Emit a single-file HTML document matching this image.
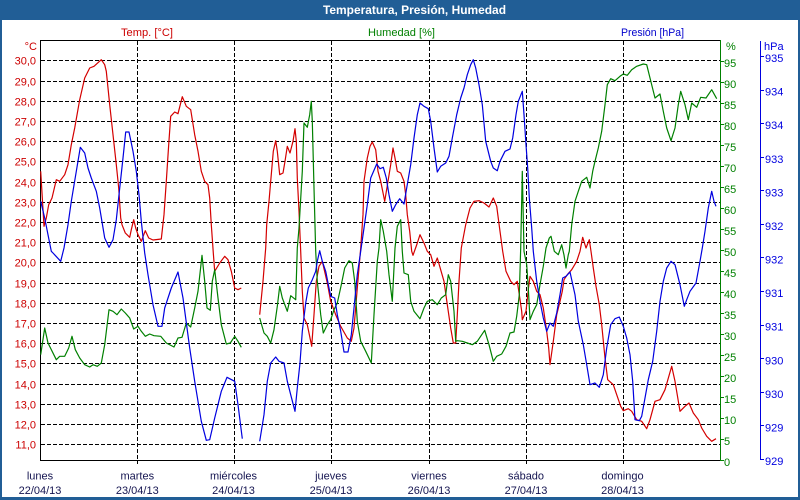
<!DOCTYPE html>
<html><head><meta charset="utf-8"><style>
html,body{margin:0;padding:0;background:#fff;}
body{width:800px;height:500px;overflow:hidden;}
svg{display:block;}
text{font-family:"Liberation Sans",Arial,sans-serif;font-size:11px;}
</style></head><body>
<svg width="800" height="500" viewBox="0 0 800 500" xmlns="http://www.w3.org/2000/svg">
<rect x="0" y="0" width="800" height="500" fill="#ffffff"/>
<rect x="0" y="0" width="800" height="20" fill="#215E96"/>
<rect x="0" y="20" width="2" height="480" fill="#215E96"/>
<rect x="798" y="20" width="2" height="480" fill="#215E96"/>
<rect x="0" y="497" width="800" height="3" fill="#215E96"/>
<text x="323" y="14" fill="#ffffff" font-weight="bold" style="font-size:12px" textLength="183" lengthAdjust="spacingAndGlyphs">Temperatura, Presión, Humedad</text>

<text x="121" y="36" fill="#CC0000" textLength="52" lengthAdjust="spacingAndGlyphs">Temp. [°C]</text>
<text x="368" y="36" fill="#008000" textLength="67" lengthAdjust="spacingAndGlyphs">Humedad [%]</text>
<text x="621" y="36" fill="#0000CC" textLength="63" lengthAdjust="spacingAndGlyphs">Presión [hPa]</text>

<!-- horizontal grid -->
<g stroke="#000" stroke-width="1" stroke-dasharray="4,2" shape-rendering="crispEdges">
<line x1="41" y1="60.5" x2="720" y2="60.5"/>
<line x1="41" y1="81.5" x2="720" y2="81.5"/>
<line x1="41" y1="101.5" x2="720" y2="101.5"/>
<line x1="41" y1="121.5" x2="720" y2="121.5"/>
<line x1="41" y1="141.5" x2="720" y2="141.5"/>
<line x1="41" y1="161.5" x2="720" y2="161.5"/>
<line x1="41" y1="182.5" x2="720" y2="182.5"/>
<line x1="41" y1="202.5" x2="720" y2="202.5"/>
<line x1="41" y1="222.5" x2="720" y2="222.5"/>
<line x1="41" y1="242.5" x2="720" y2="242.5"/>
<line x1="41" y1="262.5" x2="720" y2="262.5"/>
<line x1="41" y1="283.5" x2="720" y2="283.5"/>
<line x1="41" y1="303.5" x2="720" y2="303.5"/>
<line x1="41" y1="323.5" x2="720" y2="323.5"/>
<line x1="41" y1="343.5" x2="720" y2="343.5"/>
<line x1="41" y1="363.5" x2="720" y2="363.5"/>
<line x1="41" y1="384.5" x2="720" y2="384.5"/>
<line x1="41" y1="404.5" x2="720" y2="404.5"/>
<line x1="41" y1="424.5" x2="720" y2="424.5"/>
<line x1="41" y1="444.5" x2="720" y2="444.5"/>
<!-- vertical grid -->
<line x1="137.5" y1="41" x2="137.5" y2="460"/>
<line x1="234.5" y1="41" x2="234.5" y2="460"/>
<line x1="331.5" y1="41" x2="331.5" y2="460"/>
<line x1="429.5" y1="41" x2="429.5" y2="460"/>
<line x1="526.5" y1="41" x2="526.5" y2="460"/>
<line x1="623.5" y1="41" x2="623.5" y2="460"/>
</g>
<!-- axes -->
<g stroke="#000" stroke-width="1" shape-rendering="crispEdges">
<line x1="40" y1="40.5" x2="720" y2="40.5"/>
<line x1="40.5" y1="40" x2="40.5" y2="461"/>
<line x1="40" y1="460.5" x2="720" y2="460.5"/>
<line x1="137.5" y1="460" x2="137.5" y2="464"/>
<line x1="234.5" y1="460" x2="234.5" y2="464"/>
<line x1="331.5" y1="460" x2="331.5" y2="464"/>
<line x1="429.5" y1="460" x2="429.5" y2="464"/>
<line x1="526.5" y1="460" x2="526.5" y2="464"/>
<line x1="623.5" y1="460" x2="623.5" y2="464"/>
</g>
<!-- green axis -->
<g stroke="#008000" stroke-width="1" shape-rendering="crispEdges">
<line x1="720.5" y1="40" x2="720.5" y2="461"/>
<line x1="720" y1="61.5" x2="724" y2="61.5"/>
<line x1="720" y1="82.5" x2="724" y2="82.5"/>
<line x1="720" y1="103.5" x2="724" y2="103.5"/>
<line x1="720" y1="124.5" x2="724" y2="124.5"/>
<line x1="720" y1="145.5" x2="724" y2="145.5"/>
<line x1="720" y1="166.5" x2="724" y2="166.5"/>
<line x1="720" y1="187.5" x2="724" y2="187.5"/>
<line x1="720" y1="208.5" x2="724" y2="208.5"/>
<line x1="720" y1="229.5" x2="724" y2="229.5"/>
<line x1="720" y1="250.5" x2="724" y2="250.5"/>
<line x1="720" y1="271.5" x2="724" y2="271.5"/>
<line x1="720" y1="292.5" x2="724" y2="292.5"/>
<line x1="720" y1="313.5" x2="724" y2="313.5"/>
<line x1="720" y1="334.5" x2="724" y2="334.5"/>
<line x1="720" y1="355.5" x2="724" y2="355.5"/>
<line x1="720" y1="376.5" x2="724" y2="376.5"/>
<line x1="720" y1="397.5" x2="724" y2="397.5"/>
<line x1="720" y1="418.5" x2="724" y2="418.5"/>
<line x1="720" y1="439.5" x2="724" y2="439.5"/>
<line x1="720" y1="460.5" x2="724" y2="460.5"/>
</g>
<!-- blue axis -->
<g stroke="#0000E0" stroke-width="1" shape-rendering="crispEdges">
<line x1="760.5" y1="41" x2="760.5" y2="460"/>
<line x1="760" y1="459.5" x2="764" y2="459.5"/>
<line x1="760" y1="425.5" x2="764" y2="425.5"/>
<line x1="760" y1="392.5" x2="764" y2="392.5"/>
<line x1="760" y1="358.5" x2="764" y2="358.5"/>
<line x1="760" y1="325.5" x2="764" y2="325.5"/>
<line x1="760" y1="291.5" x2="764" y2="291.5"/>
<line x1="760" y1="257.5" x2="764" y2="257.5"/>
<line x1="760" y1="224.5" x2="764" y2="224.5"/>
<line x1="760" y1="190.5" x2="764" y2="190.5"/>
<line x1="760" y1="157.5" x2="764" y2="157.5"/>
<line x1="760" y1="123.5" x2="764" y2="123.5"/>
<line x1="760" y1="90.5" x2="764" y2="90.5"/>
<line x1="760" y1="56.5" x2="764" y2="56.5"/>
</g>

<!-- left labels -->
<g fill="#CC0000" text-anchor="end">
<text x="37" y="50">°C</text>
<text x="36" y="64.5">30,0</text>
<text x="36" y="85.5">29,0</text>
<text x="36" y="105.5">28,0</text>
<text x="36" y="125.5">27,0</text>
<text x="36" y="145.5">26,0</text>
<text x="36" y="165.5">25,0</text>
<text x="36" y="186.5">24,0</text>
<text x="36" y="206.5">23,0</text>
<text x="36" y="226.5">22,0</text>
<text x="36" y="246.5">21,0</text>
<text x="36" y="266.5">20,0</text>
<text x="36" y="287.5">19,0</text>
<text x="36" y="307.5">18,0</text>
<text x="36" y="327.5">17,0</text>
<text x="36" y="347.5">16,0</text>
<text x="36" y="367.5">15,0</text>
<text x="36" y="388.5">14,0</text>
<text x="36" y="408.5">13,0</text>
<text x="36" y="428.5">12,0</text>
<text x="36" y="448.5">11,0</text>
</g>
<!-- green labels -->
<g fill="#008000">
<text x="726" y="50">%</text>
<text x="724" y="67">95</text>
<text x="724" y="88">90</text>
<text x="724" y="109">85</text>
<text x="724" y="130">80</text>
<text x="724" y="151">75</text>
<text x="724" y="172">70</text>
<text x="724" y="193">65</text>
<text x="724" y="214">60</text>
<text x="724" y="235">55</text>
<text x="724" y="256">50</text>
<text x="724" y="277">45</text>
<text x="724" y="298">40</text>
<text x="724" y="319">35</text>
<text x="724" y="340">30</text>
<text x="724" y="361">25</text>
<text x="724" y="382">20</text>
<text x="724" y="403">15</text>
<text x="724" y="424">10</text>
<text x="724" y="445">5</text>
<text x="724" y="466">0</text>
</g>
<!-- blue labels -->
<g fill="#0000E0">
<text x="764" y="50">hPa</text>
<text x="765" y="62">935</text>
<text x="765" y="95.6">934</text>
<text x="765" y="129.2">934</text>
<text x="765" y="162.8">933</text>
<text x="765" y="196.3">933</text>
<text x="765" y="229.9">932</text>
<text x="765" y="263.5">932</text>
<text x="765" y="297.1">931</text>
<text x="765" y="330.7">931</text>
<text x="765" y="364.3">930</text>
<text x="765" y="397.8">930</text>
<text x="765" y="431.4">929</text>
<text x="765" y="465">929</text>
</g>
<!-- day labels -->
<g fill="#141450" text-anchor="middle">
<text x="40" y="479.5">lunes</text>
<text x="40" y="494">22/04/13</text>
<text x="137.3" y="479.5">martes</text>
<text x="137.3" y="494">23/04/13</text>
<text x="233.5" y="479.5">miércoles</text>
<text x="233.5" y="494">24/04/13</text>
<text x="331" y="479.5">jueves</text>
<text x="331" y="494">25/04/13</text>
<text x="429" y="479.5">viernes</text>
<text x="429" y="494">26/04/13</text>
<text x="526" y="479.5">sábado</text>
<text x="526" y="494">27/04/13</text>
<text x="622.5" y="479.5">domingo</text>
<text x="622.5" y="494">28/04/13</text>
</g>

<!-- series -->
<g fill="none" stroke-width="1.2" stroke-linejoin="round">
<polyline stroke="#D40000" points="40.7,171.3 44,226.3 46.3,218 48.7,204.7 52,198 56.3,179.7 59.7,181.3 64.7,174.7 68,164.7 71.3,144.7 74.7,128 79.7,99.7 84.7,78 89.7,68 94,66.3 101.3,59.7 104.7,64.7 106.3,71.3 109.7,104.7 113,134.7 116.3,164.7 118.7,188 120.7,218 122,224.7 125.3,233 129.7,237.3 131.3,229.7 133.7,219.7 135.7,228 138,234.7 141.3,241.3 145.3,230.7 148.7,238 153,240 161.3,239 164,214.7 166.3,181.3 168.7,144.7 170.7,116.3 174.7,112 178,113.7 182.3,96.7 186.3,106.3 190.7,109.7 194.7,134.7 198,151.3 201.3,171.3 204.7,181.3 208,184.7 209.7,198 211.3,224.7 213.3,253 214.7,271.3 219.7,263 224.7,256.3 228,259.7 231.3,271.3 234.7,288 238,289.7 241.3,288"/>
<polyline stroke="#D40000" points="259.7,314.7 263,281.3 265.7,248 266.7,224.7 269,201.3 270.7,181.3 273.3,151.3 275.7,140.7 277.3,151.3 279.7,174.7 283,173 285,161.3 287.3,146.3 290,153 293,141.3 295,128.7 296.3,141.3 297.3,178 299,211.3 300.7,251.3 302.3,291.3 304,318 307.3,324.7 311.7,346.3 314,314.7 316.3,281.3 319,266.3 322.3,261.3 325,273 327.3,283 330.7,301.3 335.7,314.7 340.7,326.3 347.3,338 351.3,341.3 354,328 357.3,288 360.7,248 363,214.7 364,181.3 367.3,158 370,146.3 372.3,142 375.7,149.7 378,171.3 380.7,181.3 384.7,201.3 388,181.3 390.7,164.7 393,148 395,158 397.3,171.3 400.7,173 404,181.3 405.7,194.7 407.3,214.7 409.7,231.3 411.7,251.3 413,255.3 417,244 420,234.7 424,243 427.3,251.3 430.7,254.7 434,266.3 437.3,258 439.7,266.3 444,281.3 447.3,304.7 450.7,328 453.3,343 455.7,343 457.3,314.7 459,281.3 461.3,248 465.7,224.7 470,208 474,201.3 479,200.7 484,203 489,207 493.3,198 496.7,206.3 500,231.3 502.7,251.3 506,271.3 510.7,281.3 514,284.7 517.3,281.3 519.3,294.7 521.7,311.3 522.3,319.7 526,311.3 528.3,289.7 530,276.3 533.3,281.3 536.7,291.3 540,294.7 543.3,308 546.7,331.3 548.7,348 550,364.7 553.3,341.3 556.7,314.7 560,301.3 562.3,291.3 564,279.7 567.3,274.7 571.7,269.7 576.7,261.3 580,251.3 582.7,237.3 586,248 589.3,239.7 591,251.3 593.3,268 596,286.3 599.3,304.7 601.7,324.7 605,358 607.7,379.7 613.3,384.7 616.7,394.7 620.7,406.3 623.3,410.7 628.3,408.7 631.7,411.3 636.7,419.7 641.7,421.3 646.7,428.7 650,419.7 655,401.3 660,399.7 665,389.7 671.7,366.3 675,381.3 680,411.3 685,406.3 689,403 693.3,413 698.3,419.7 701.7,428 706.7,436.3 711.7,441.3 716,438.7"/>
<polyline stroke="#008000" points="40.7,354.7 44.7,328 48,343 56.3,359.7 59.7,356.3 64.7,356.3 68.7,348 72,336.3 75.3,349.7 79.7,358 84.7,364.7 89.7,367 93,364.7 97.3,366.3 101.3,363 104.7,344.7 109,309.7 113,311.3 117,314.7 121.3,309 125.3,313 129.7,318 133.7,329 138,326.3 141.3,331.3 145.3,336.3 149.7,334 154,335.7 160.7,336.3 166.3,343 174,347 178,338 182,337.3 186.3,323 190.7,327 194.7,308 198,291.3 202,255.3 204.7,281.3 207,308 210.3,310.3 212.3,281.3 214.7,269.7 218,298 221.3,324.7 226.3,344 230.3,343 234.7,336.3 238,341.3 241.3,347.3"/>
<polyline stroke="#008000" points="259.7,318 264,333 267.3,336.3 270.7,343 274,329.7 277.3,306.3 279.7,286.3 282.3,298 287.3,311.3 290.7,295.7 295.7,299.7 297.3,248 299,228 302.3,171.3 304,123 307.3,127.3 309.7,114.7 311.3,101.3 312.3,121.3 314,188 315.7,251.3 317.3,281.3 320.7,314.7 323.3,333 327.3,324.7 330.7,319.7 334,309.7 337.3,303 341.3,284.7 344.7,268 349,260.7 352.3,263 354.7,281.3 357.3,321.3 360.7,341.3 365.7,351.3 371.3,363 374,314.7 377.3,261.3 379,248 380.7,219.7 383.3,231.3 386.7,251.3 389,274.7 392.3,301.3 395,248 397.3,226.3 400.7,219.7 402.3,251.3 404,273 408.3,274.7 410.7,301.3 414,311.3 420,318.7 424,308 427.3,301.3 432.3,299.7 437.3,304.7 441.3,298 445.7,294.7 448.3,274.7 450.7,281.3 454,311.3 455.7,341.3 457.3,340.7 462.3,341.3 467.3,343 472.3,344.7 477.3,341.3 484.7,330.3 489,344.7 493.3,361.3 496.7,356.3 501.7,354 506,346.3 510,333 514,332 516.7,316.3 519.3,294.7 520.7,248 522.3,171.3 524,251.3 526.7,264.7 528.3,288 530,319.7 533.3,311.3 536.7,304.7 540,284.7 543.3,266.3 546,248 549.3,238 551,236.3 554.3,251.3 558.3,254.7 561.7,244.7 564,255 566,268 568.3,254.7 569.3,251.3 571.7,224.7 575,201.3 578.3,191.3 581.7,181.3 586.7,177.3 590,188 592.7,171.3 595,161.3 598.3,148 601.7,131.3 605,104.7 607.3,84.7 610.7,78.7 615,80.7 620,76.3 623.3,74 627.3,75.3 631.7,69.7 636.7,66.3 643.3,64 646.7,64.7 650,78 655,98 660,94 663.3,111.3 666.7,128 671,140.7 675,128 678.3,104.7 680.7,91.3 685,104.7 688.3,119.7 691.7,103 696.7,107.3 700.7,97.3 706,98 711.7,89.7 716.7,98.7"/>
<polyline stroke="#0000E0" points="40.7,201.3 44.7,218 48,234.7 51.3,251.3 53,253 60.7,261.3 64,248 68,224.7 71.3,201.3 76.3,171.3 80.3,147.3 84.7,153 88,168 91.3,178 96.3,191.3 99.7,208 104.7,238 109,247.3 113,239.7 116.3,219.7 119,194.7 123,158 125.7,132 129,132 133,151.3 136.3,171.3 139,194.7 141.3,221.3 144.7,253 148,274.7 153,304.7 158,326.3 162,326.3 164.7,308 171.3,288 178,272 183,298 189.7,348 194.7,381.3 201.3,421.3 206.3,440.3 209.7,439.7 214.7,418 221.3,391.3 227,377.3 234.7,381.3 238,404.7 242.3,438.7"/>
<polyline stroke="#0000E0" points="259.7,441.3 264,414.7 267.3,381.3 270.7,363 275.7,357 279,361.3 284,363 287.3,381.3 290.7,394.7 295,411.3 297.3,388 300,363 302.3,331.3 305.7,303 308.3,288 312.3,279.7 315.7,271.3 317.3,261.3 319.7,250.7 322.3,261.3 325.7,271.3 329,288 330.7,296.3 334.7,298 337.3,314.7 340.7,331.3 344,352 348,352 351.3,334.7 354,308 357.3,274.7 360.7,251.3 364,228 367.3,204.7 370.7,178 376.7,164 380,168.7 383.3,167.3 386.3,178 389,194.7 392.3,211.3 395.7,204.7 399.7,198.7 404,204 406.7,188 410.7,164.7 414,138 417.3,114.7 420,103 424,106.3 428.3,108.7 430.7,121.3 434,148 437.3,172 440.7,166.3 445.7,163 449,156.3 452.3,138 456.7,114.7 460.7,98 464,88 467.3,74.7 470.7,64.7 473.3,59.7 475.7,68 479,84.7 482.3,104.7 485.7,141.3 490.7,161.3 493.3,168 497.3,170.7 500,161.3 505,151.3 510,149 512.7,138 516,114.7 518.3,101.3 522.3,91.3 524,114.7 526,144.7 527.7,168 529.3,198 531.7,228 533.3,251.3 536.7,281.3 540,301.3 543.3,318 546.7,331.3 550,323 553.3,326.3 556.7,313 560,294.7 562.7,278 566,276.3 570,272 575,294.7 578.3,321.3 583.3,344.7 586.7,364.7 590,384.7 595,383 599.3,387.3 603.3,374.7 606.7,348 610.7,324.7 615,318.7 619.3,317 623.3,326.3 626.7,338 630,354.7 632.7,381.3 635,419.7 639.3,420.7 641.7,416.3 645,398 648.3,379.7 652.7,361.3 656.7,331.3 660,301.3 663.3,281.3 666.7,268 671,261.3 675,264.7 680,284.7 684.3,306.3 686.7,299.7 690,291.3 696,283 700,261.3 702.3,248 705,231.3 708.3,208 711.7,191.3 714,201.3 716,206.3"/>
</g>
</svg>
</body></html>
